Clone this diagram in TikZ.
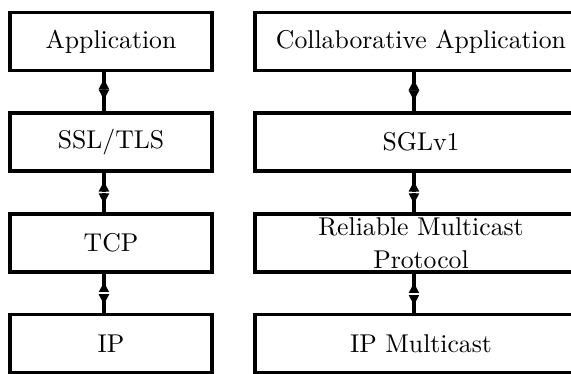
\documentclass[tikz,border=0pt]{standalone}
\usetikzlibrary{decorations.markings}
\tikzset{
  layer/.style={draw, rectangle, line width=1.35pt, inner sep=0pt,
    minimum height=22.56pt, align=center, font=\fontsize{10}{12.8}\selectfont},
  leftlayer/.style={layer, minimum width=78.58pt},
  rightlayer/.style={layer, minimum width=129.15pt},
  conn/.style={line width=1.35pt},
  headpair/.style 2 args={postaction={decorate}, decoration={markings,
    mark=at position #1 with {
      \fill (-#2-4pt,0pt) -- (-#2,2.1pt) -- (-#2,-2.1pt) -- cycle;
      \fill (#2+4pt,0pt) -- (#2,2.1pt) -- (#2,-2.1pt) -- cycle;
      \fill[white] (-#2,-2.5pt) rectangle (#2,2.5pt);
    }}}
}
\begin{document}
\begin{tikzpicture}[x=0.389pt, y=-0.389pt]
\useasboundingbox (0,0) rectangle (571,373);
% left column
\node[leftlayer] (l1) at (111,41.5) {Application};
\node[leftlayer] (l2) at (111,142) {SSL/TLS};
\node[leftlayer] (l3) at (111,243) {TCP};
\node[leftlayer] (l4) at (111,343.5) {IP};
% right column
\node[rightlayer] (r1) at (421,41.5) {Collaborative Application};
\node[rightlayer] (r2) at (421,142) {SGLv1};
\node[rightlayer] (r3) at (421,243) {Reliable Multicast\\Protocol};
\node[rightlayer] (r4) at (421,343.5) {IP Multicast};
% connectors
\draw[conn, headpair={0.44}{0pt}] ([xshift=-2.75pt]l1.south) -- ([xshift=-2.75pt]l2.north);
\draw[conn, headpair={0.5}{0.3pt}] ([xshift=-2.75pt]l2.south) -- ([xshift=-2.75pt]l3.north);
\draw[conn, headpair={0.5}{0.3pt}] ([xshift=-2.75pt]l3.south) -- ([xshift=-2.75pt]l4.north);
\draw[conn, headpair={0.46}{0pt}] ([xshift=-2.75pt]r1.south) -- ([xshift=-2.75pt]r2.north);
\draw[conn, headpair={0.5}{0.3pt}] ([xshift=-2.75pt]r2.south) -- ([xshift=-2.75pt]r3.north);
\draw[conn, headpair={0.52}{0.3pt}] ([xshift=-2.75pt]r3.south) -- ([xshift=-2.75pt]r4.north);
\end{tikzpicture}
\end{document}
